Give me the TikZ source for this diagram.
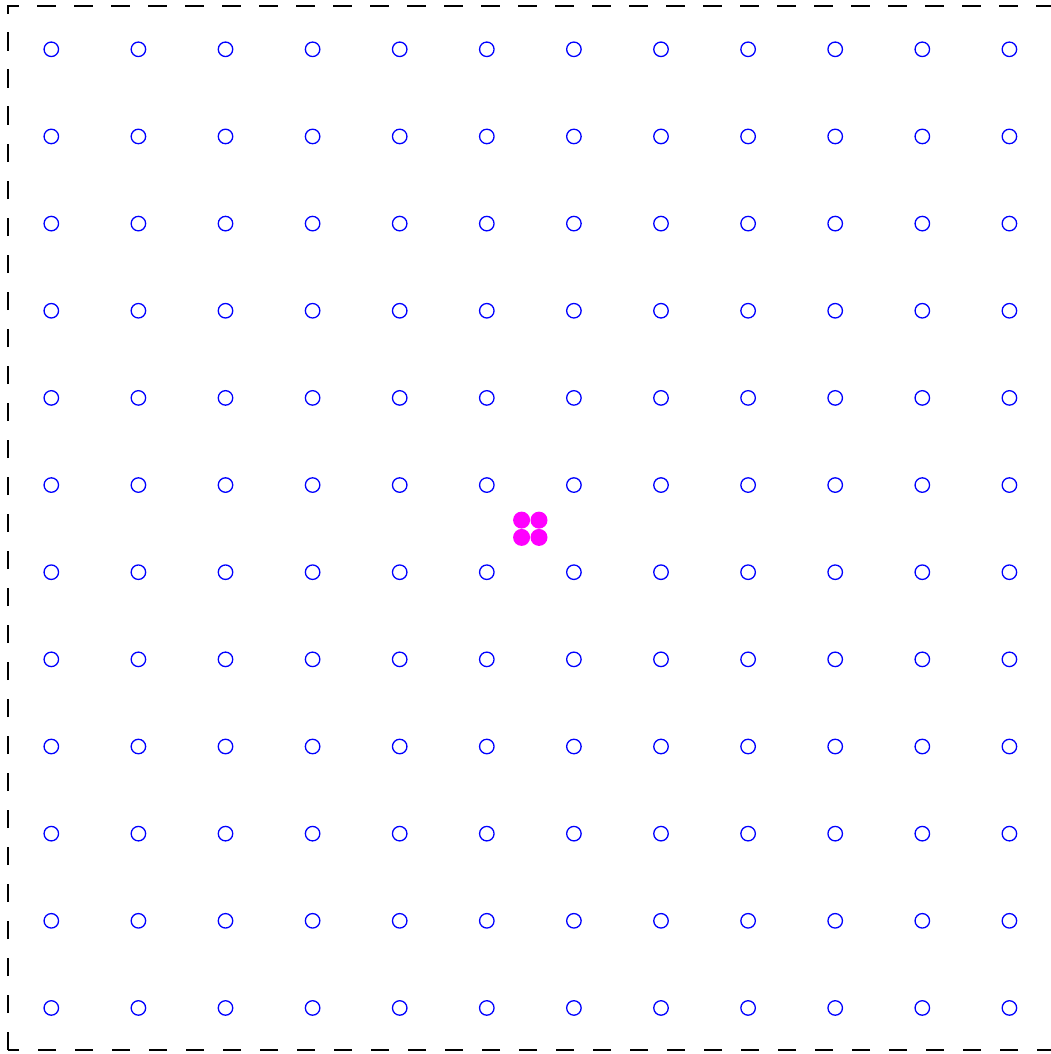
\documentclass[tikz,border=0pt]{standalone}
\definecolor{puremagenta}{RGB}{255,0,255}
\definecolor{pureblue}{RGB}{0,0,255}
\begin{document}
\begin{tikzpicture}[x=1pt,y=-1pt,
  ring/.style={circle,draw=pureblue,line width=1.3pt,minimum size=14.5pt,inner sep=0pt},
  blob/.style={circle,fill=puremagenta,minimum size=17pt,inner sep=0pt},
  frame/.style={draw=black,line width=2.8pt,dash pattern=on 18.5pt off 18.5pt}]
\useasboundingbox (0,0) rectangle (1051,1054);
\draw[frame] (8,1050) rectangle (1060,6);
\foreach \i in {0,...,11}{
  \foreach \j in {0,...,11}{
    \node[ring] (c-\i-\j) at ({51.3+87.1*\i},{49.3+87.15*\j}) {};
  }
}
\node[blob] (m1) at (521.6,520.1) {};
\node[blob] (m2) at (539.0,520.1) {};
\node[blob] (m3) at (521.6,537.4) {};
\node[blob] (m4) at (539.0,537.4) {};
\end{tikzpicture}
\end{document}
